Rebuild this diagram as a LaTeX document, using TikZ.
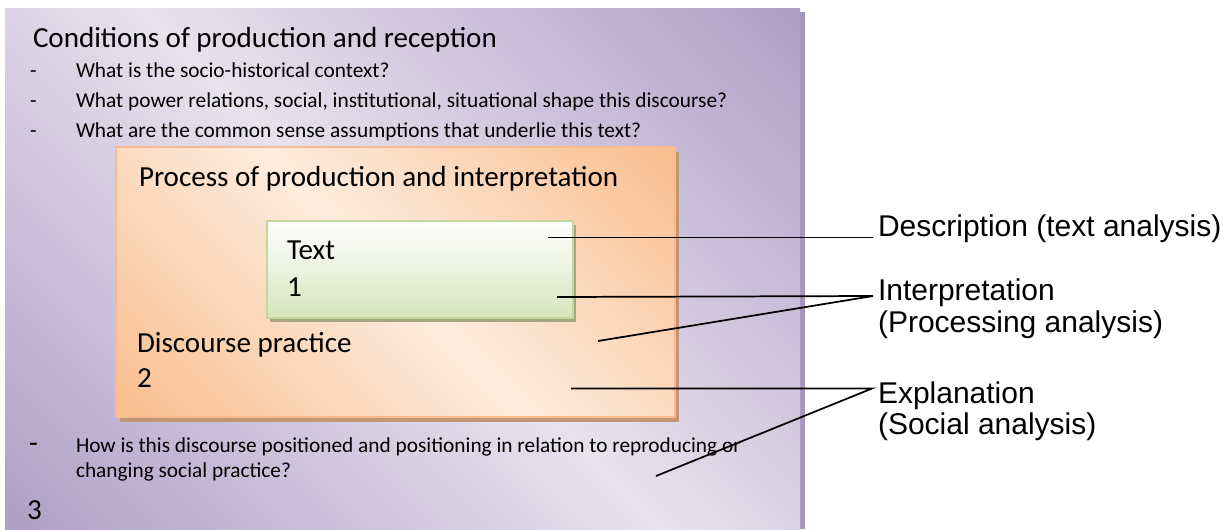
\documentclass[tikz,border=0pt]{standalone}
\usepackage{fontspec}
\setmainfont{Carlito}
\newfontfamily\arialfont{Liberation Sans}
\definecolor{pdark}{RGB}{176,159,198}
\definecolor{plight}{RGB}{231,226,238}
\definecolor{pshadow}{RGB}{165,150,190}
\definecolor{odark}{RGB}{250,190,142}
\definecolor{olight}{RGB}{253,236,222}
\definecolor{oborder}{RGB}{248,188,140}
\definecolor{oshadow}{RGB}{196,150,120}
\definecolor{gdark}{RGB}{215,228,189}
\definecolor{gborder}{RGB}{195,214,155}
\definecolor{gshadow}{RGB}{168,166,130}
\pgfdeclareverticalshading{panelshade}{100bp}{color(0bp)=(pdark); color(15bp)=(pdark); color(50bp)=(plight); color(85bp)=(pdark); color(100bp)=(pdark)}
\pgfdeclareverticalshading{orangeshade}{100bp}{color(0bp)=(odark); color(15bp)=(odark); color(50bp)=(olight); color(85bp)=(odark); color(100bp)=(odark)}
\begin{document}
\begin{tikzpicture}[x=0.75pt,y=0.75pt,
  txt/.style={anchor=base west,inner sep=0pt,outer sep=0pt},
  big/.style={txt,font=\fontsize{21.8}{26}\selectfont},
  small/.style={txt,font=\fontsize{16}{19}\selectfont},
  lab/.style={txt,font=\arialfont\fontsize{22.5}{26}\selectfont},
  conn/.style={draw=black,line width=1.3pt}]
\useasboundingbox (0,-529) rectangle (1223,0);
\fill[white] (0,-529) rectangle (1223,0);
\clip (0,-529) rectangle (1223,0);
% outer panel
\fill[pshadow] (800,-12) rectangle (805,-529);
\shade[shading=panelshade,shading angle=-45] (5,-8) rectangle (800,-529);
\node[big] (title) at (33,-47) {Conditions of production and reception};
\node[small] (dash1) at (30,-77) {-};
\node[small] (q1) at (76,-77) {What is the socio-historical context?};
\node[small] (dash2) at (30,-107) {-};
\node[small] (q2) at (76,-107) {What power relations, social, institutional, situational shape this discourse?};
\node[small] (dash3) at (30,-137) {-};
\node[small] (q3) at (76,-137) {What are the common sense assumptions that underlie this text?};
% orange box
\fill[oshadow] (120,-152) rectangle (679,-422);
\shade[shading=orangeshade,shading angle=-45] (116,-147) rectangle (675,-417);
\draw[oborder,line width=1.5pt] (116,-147) rectangle (675,-417);
\node[big] (proc) at (139,-186) {Process of production and interpretation};
% green box
\fill[gshadow] (270,-225) rectangle (576,-322);
\shade[top color=white,bottom color=gdark] (267,-221) rectangle (573,-318);
\draw[gborder,line width=1.5pt] (267,-221) rectangle (573,-318);
\node[big] (text) at (287,-259) {Text};
\node[big] (one) at (287,-296) {1};
\node[big] (disc) at (137,-352) {Discourse practice};
\node[big] (two) at (137,-387) {2};
% bottom
\node[big] (dash4) at (29,-452) {-};
\node[small] (q4) at (76,-452) {How is this discourse positioned and positioning in relation to reproducing or};
\node[small] (q4b) at (76,-477) {changing social practice?};
\node[big] (three) at (27,-519) {3};
% labels
\node[lab] (ldesc) at (878,-236) {Description (text analysis)};
\node[lab] (linterp) at (878,-300) {Interpretation};
\node[lab] (linterp2) at (878,-332) {(Processing analysis)};
\node[lab] (lexpl) at (878,-403) {Explanation};
\node[lab] (lexpl2) at (878,-434) {(Social analysis)};
% connectors
\coordinate (dA) at (548,-237.5);
\coordinate (dJ) at (873,-237.5);
\coordinate (iA) at (557,-297);
\coordinate (iB) at (598,-341);
\coordinate (iJ) at (873,-296);
\coordinate (eA) at (571,-388.5);
\coordinate (eB) at (656,-476);
\coordinate (eJ) at (872,-388.5);
\draw[conn] (dA) -- (dJ);
\draw[conn] (iA) -- (iJ) -- (iB);
\draw[conn] (eA) -- (eJ) -- (eB);
\end{tikzpicture}
\end{document}
